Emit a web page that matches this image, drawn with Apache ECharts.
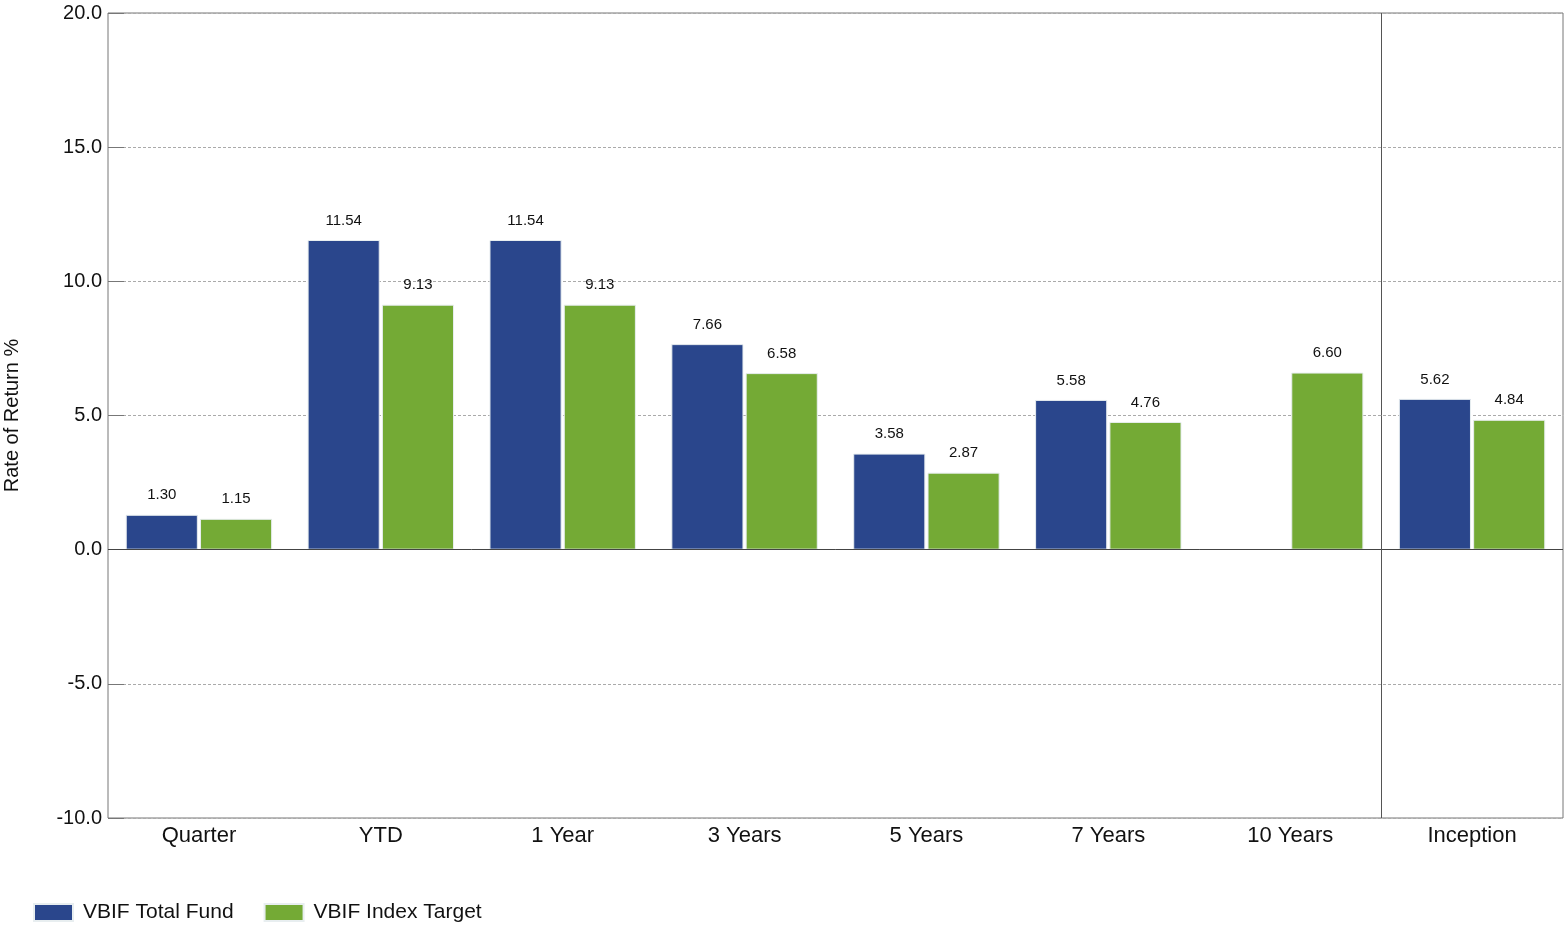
<!DOCTYPE html>
<html>
<head>
<meta charset="utf-8">
<script src="https://cdn.jsdelivr.net/npm/echarts@6/dist/echarts.min.js"></script>
<style>
  html, body { margin: 0; padding: 0; background: #fff; }
  #chart { width: 1564px; height: 926px; }
</style>
</head>
<body>
<div id="chart"></div>
<script>
// Trailing-period returns, in percent
const categories = ['Quarter', 'YTD', '1 Year', '3 Years', '5 Years', '7 Years', '10 Years', 'Inception'];
const totalFund = [1.30, 11.54, 11.54, 7.66, 3.58, 5.58, null, 5.62];
const indexTarget = [1.15, 9.13, 9.13, 6.58, 2.87, 4.76, 6.60, 4.84];
const seriesNames = ['VBIF Total Fund', 'VBIF Index Target'];
const yTicks = { min: -10, max: 20, interval: 5 };
// Divider placed between the trailing periods and since-inception (in category units)
const dividerAt = 7;

const font = '"Liberation Sans", Arial, sans-serif';

const chart = echarts.init(document.getElementById('chart'));

const labelStyle = {
  show: true,
  position: 'top',
  distance: 12,
  fontFamily: font,
  fontSize: 15,
  color: '#111',
  formatter: p => (p.value == null ? '' : p.value.toFixed(2))
};

chart.setOption({
  animation: false,
  grid: {
    left: 108, right: 1, top: 13, bottom: 108,
    containLabel: false,
    outerBoundsMode: 'none',
    show: true, borderColor: '#777', borderWidth: 1
  },
  legend: {
    left: 28, top: 897,
    itemWidth: 39, itemHeight: 17, itemGap: 30,
    icon: 'rect',
    textStyle: { fontFamily: font, fontSize: 21, color: '#111', padding: [0, 0, 0, 5] },
    data: seriesNames
  },
  xAxis: [
    {
      type: 'category',
      data: categories,
      axisLine: { show: false },
      axisTick: { show: false },
      axisLabel: { fontFamily: font, fontSize: 22, color: '#111', margin: 7 },
      splitLine: { show: false }
    },
    {
      // hidden linear axis spanning the categories, used to place the divider
      type: 'value',
      min: 0, max: categories.length,
      show: false
    }
  ],
  yAxis: {
    type: 'value',
    min: yTicks.min, max: yTicks.max, interval: yTicks.interval,
    name: 'Rate of Return %',
    nameLocation: 'middle',
    nameGap: 86,
    nameTextStyle: { fontFamily: font, fontSize: 20, color: '#111' },
    axisLine: { show: false },
    axisTick: { show: true, inside: true, length: 16, lineStyle: { color: '#777' } },
    axisLabel: {
      fontFamily: font, fontSize: 20, color: '#111', margin: 6,
      formatter: v => v.toFixed(1)
    },
    splitLine: { show: true, lineStyle: { color: '#aaa', type: [3, 2], width: 1 } }
  },
  series: [
    {
      name: seriesNames[0],
      type: 'bar',
      data: totalFund,
      barGap: '3%',
      barCategoryGap: '19.5%',
      itemStyle: { color: '#2a468c', borderColor: '#e8eef0', borderWidth: 1 },
      label: labelStyle,
      markLine: {
        silent: true,
        symbol: 'none',
        label: { show: false },
        lineStyle: { color: '#444', type: 'solid', width: 1 },
        data: [{ yAxis: 0 }]
      },
      z: 3
    },
    {
      name: seriesNames[1],
      type: 'bar',
      data: indexTarget,
      itemStyle: { color: '#74aa35', borderColor: '#e8eef0', borderWidth: 1 },
      label: labelStyle,
      z: 3
    },
    {
      name: 'divider',
      type: 'scatter',
      xAxisIndex: 1,
      data: [],
      silent: true,
      markLine: {
        silent: true,
        symbol: 'none',
        label: { show: false },
        lineStyle: { color: '#555', type: 'solid', width: 1 },
        data: [{ xAxis: dividerAt }]
      },
      z: 1
    }
  ]
});
</script>
</body>
</html>
